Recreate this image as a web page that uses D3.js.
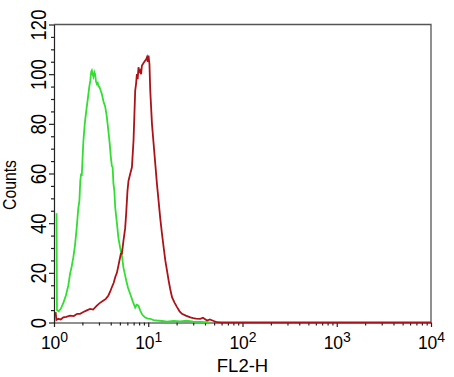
<!DOCTYPE html>
<html>
<head>
<meta charset="utf-8">
<script src="https://cdn.jsdelivr.net/npm/d3@7"></script>
<style>
  body { margin: 0; background: #fff; }
  svg { display: block; font-family: "Liberation Sans", Arial, sans-serif; }
</style>
</head>
<body>
<div id="chart"></div>
<script>
// Histogram data (FL2-H value, counts)
const greenFL2 = [1.065, 1.075, 1.12, 1.18, 1.26, 1.34, 1.42, 1.48, 1.54, 1.60, 1.67, 1.74, 1.81, 1.86, 1.90, 1.94, 1.97, 2.02, 2.05, 2.12, 2.18, 2.23, 2.30, 2.37, 2.43, 2.48, 2.52, 2.57, 2.62, 2.68, 2.73, 2.79, 2.85, 2.91, 2.97, 3.03, 3.12, 3.22, 3.35, 3.49, 3.63, 3.78, 3.90, 4.01, 4.11, 4.19, 4.27, 4.37, 4.46, 4.65, 4.83, 5.04, 5.25, 5.46, 5.65, 5.83, 6.10, 6.44, 6.85, 7.27, 7.55, 7.88, 8.22, 8.70, 9.29, 9.90, 10.5, 11.4, 12.4, 14.0, 15.8, 18.5, 21.9, 25.5, 30.1, 36, 45]
const greenCounts = [44, 5, 4.5, 5.5, 8, 11, 15, 19.6, 22.5, 26, 31, 38, 46, 49, 57, 60, 59, 68, 73, 80, 84, 87, 91, 95, 97.5, 101, 101.5, 100, 99, 100.8, 100, 97, 96, 96.5, 95, 95, 93.5, 92, 89, 87, 83, 77, 72, 66.6, 63, 62.5, 56, 53, 46.4, 40, 34, 30, 27, 22, 19.5, 17, 14, 11.5, 8.5, 6, 7.2, 6.8, 4.8, 3, 2, 1.6, 1.5, 1.0, 0.8, 0.6, 0.3, 0.6, 0.4, 0.7, 0.3, 0.2, 0]

const redFL2 = [1.04, 1.06, 1.11, 1.18, 1.256, 1.35, 1.48, 1.62, 1.76, 1.89, 2.05, 2.2, 2.415, 2.6, 2.85, 3.05, 3.35, 3.55, 3.78, 3.95, 4.11, 4.3, 4.46, 4.65, 4.83, 5.12, 5.25, 5.46, 5.69, 5.83, 6.02, 6.17, 6.45, 6.71, 6.98, 7.27, 7.42, 7.58, 7.72, 7.88, 8.05, 8.22, 8.40, 8.57, 8.75, 8.91, 9.1, 9.29, 9.5, 9.69, 9.88, 10.07, 10.3, 10.5, 10.95, 11.4, 11.87, 12.35, 12.87, 13.4, 13.99, 14.6, 15.17, 15.8, 16.44, 17.1, 17.87, 19.0, 20.2, 21.5, 22.8, 25, 27.97, 30, 32, 35.7, 38, 42.1, 45, 49.5, 53.8, 60, 10000]
const redCounts = [4.2, 1.0, 1.5, 1.2, 2.1, 2.3, 2.8, 2.6, 3.5, 3.5, 4.2, 4.8, 5.5, 5.2, 6.8, 7.8, 8.9, 9.5, 10.9, 12.5, 14.2, 16, 18.2, 20, 23, 27.7, 27.7, 33, 38, 43.8, 53, 57, 60, 62.5, 73.3, 93.4, 96, 100, 98, 102.8, 101, 101.5, 100, 103.5, 104, 104.5, 105, 105.5, 106, 106.8, 105, 107.5, 104, 93.4, 80, 72, 64, 56, 49, 42, 35.7, 30, 25, 21, 17, 13.5, 10.2, 8, 6.2, 4.5, 3.5, 2.8, 2.1, 1.8, 1.6, 1.5, 1.9, 0.8, 1.2, 0.6, 0.1, 0, 0]

// Axis ticks
const xMajor = [1, 10, 100, 1000, 10000]
const xExponents = ["0", "1", "2", "3", "4"]
const yMajor = [0, 20, 40, 60, 80, 100, 120]

const width = 454
const height = 377
const plotLeft = 54, plotRight = 431, plotTop = 24.5, plotBottom = 322.5

const xScale = d3.scaleLog().domain([1, 10000]).range([plotLeft, plotRight])
const yScale = d3.scaleLinear().domain([0, 120]).range([plotBottom, plotTop])

const svg = d3.select("#chart")
              .append("svg")
              .attr("width", width)
              .attr("height", height)

// Frame on top and right
svg.append("path")
   .attr("d", `M${plotLeft},${plotTop}H${plotRight}V${plotBottom}`)
   .attr("fill", "none")
   .attr("stroke", "#555")
   .attr("stroke-width", 1.3)

// Minor ticks
let xMinor = []
xMajor.slice(0, 4).forEach(d => { for (let k = 2; k < 10; k++) xMinor.push(d * k) })
svg.append("g")
   .attr("transform", `translate(0,${plotBottom})`)
   .call(d3.axisBottom(xScale).tickValues(xMinor).tickSize(3).tickSizeOuter(0).tickFormat(""))
   .call(g => g.select(".domain").remove())

let yMinor = d3.range(0, 121, 5).filter(d => d % 20 != 0)
svg.append("g")
   .attr("transform", `translate(${plotLeft},0)`)
   .call(d3.axisLeft(yScale).tickValues(yMinor).tickSize(3).tickSizeOuter(0).tickFormat(""))
   .call(g => g.select(".domain").remove())

// X axis
const xAxis = svg.append("g")
   .attr("transform", `translate(0,${plotBottom})`)
   .call(d3.axisBottom(xScale).tickValues(xMajor).tickSize(4.5).tickSizeOuter(0))

xAxis.selectAll(".tick text")
     .attr("y", 26)
     .attr("dy", 0)
     .attr("font-size", 17.5)
     .attr("fill", "#000")
     .text("")
     .each(function(d, i) {
        const t = d3.select(this)
        t.append("tspan").text("10")
        t.append("tspan").attr("dy", -7).attr("font-size", 14).text(xExponents[i])
     })

// Y axis
const yAxis = svg.append("g")
   .attr("transform", `translate(${plotLeft},0)`)
   .call(d3.axisLeft(yScale).tickValues(yMajor).tickSize(5).tickSizeOuter(0))

yAxis.selectAll(".tick text")
     .attr("x", 0)
     .attr("dy", 0)
     .attr("text-anchor", "middle")
     .attr("font-size", 22.5)
     .attr("fill", "#000")
     .attr("transform", "translate(-8.5,0) rotate(-90) scale(0.82,1)")

svg.selectAll(".domain, .tick line").attr("stroke", "#222").attr("stroke-width", 1.2)

// Axis titles
svg.append("text")
   .attr("transform", "translate(16,185) rotate(-90) scale(0.85,1)")
   .attr("text-anchor", "middle")
   .attr("font-size", 18.5)
   .text("Counts")

svg.append("text")
   .attr("x", 242.5)
   .attr("y", 371.5)
   .attr("text-anchor", "middle")
   .attr("font-size", 18.5)
   .text("FL2-H")

// Histogram lines
const line = d3.line()
               .x(d => xScale(d[0]))
               .y(d => yScale(d[1]))

svg.append("path")
   .datum(d3.zip(greenFL2, greenCounts))
   .attr("d", line)
   .attr("fill", "none")
   .attr("stroke", "rgb(50,222,50)")
   .attr("stroke-width", 1.8)

svg.append("path")
   .datum(d3.zip(redFL2, redCounts))
   .attr("d", line)
   .attr("fill", "none")
   .attr("stroke", "rgb(172,18,24)")
   .attr("stroke-width", 1.8)
</script>
</body>
</html>
